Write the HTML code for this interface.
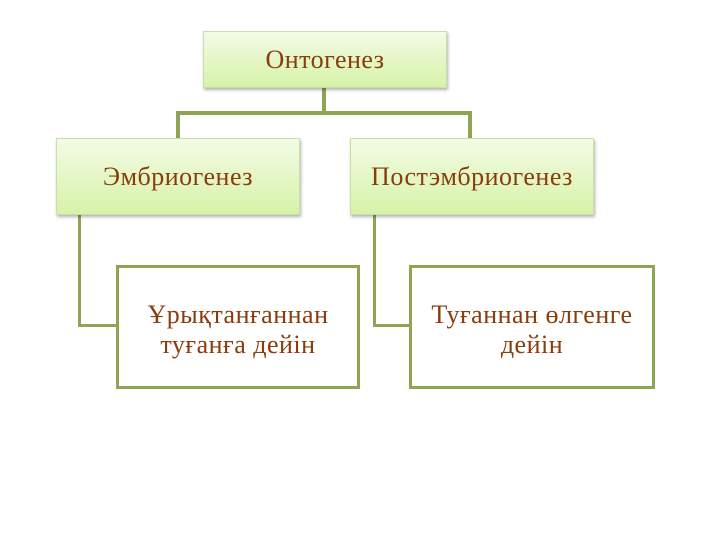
<!DOCTYPE html>
<html><head><meta charset="utf-8"><style>
body{margin:0;width:720px;height:540px;background:#fff;position:relative;overflow:hidden;font-family:"Liberation Serif",serif;color:#8a3c0c}
.g{position:absolute;box-sizing:border-box;background:linear-gradient(#f3fbe6,#d6f3a8);border:1px solid #c9dfa8;box-shadow:1px 2px 3px rgba(0,0,0,.3);display:flex;align-items:center;justify-content:center;font-size:26px;letter-spacing:0.5px}
.w{position:absolute;box-sizing:border-box;background:#fff;border:3px solid #8fa455;display:flex;align-items:center;justify-content:center;text-align:center;font-size:26px;line-height:30px;letter-spacing:0.5px;padding-top:6px}
.l{position:absolute;background:#8fa455}
</style></head><body>
<div class="l" style="left:322px;top:88px;width:4px;height:27px"></div>
<div class="l" style="left:176px;top:111px;width:296px;height:4px"></div>
<div class="l" style="left:176px;top:111px;width:4px;height:28px"></div>
<div class="l" style="left:468px;top:111px;width:4px;height:28px"></div>
<div class="l" style="left:78px;top:214px;width:3px;height:113px"></div>
<div class="l" style="left:78px;top:324px;width:42px;height:3px"></div>
<div class="l" style="left:373px;top:214px;width:3px;height:113px"></div>
<div class="l" style="left:373px;top:324px;width:38px;height:3px"></div>
<div class="g" style="left:203px;top:31px;width:244px;height:57px">Онтогенез</div>
<div class="g" style="left:56px;top:138px;width:244px;height:77px">Эмбриогенез</div>
<div class="g" style="left:350px;top:138px;width:244px;height:77px">Постэмбриогенез</div>
<div class="w" style="left:116px;top:265px;width:244px;height:124px">Ұрықтанғаннан<br>туғанға дейін</div>
<div class="w" style="left:409px;top:265px;width:246px;height:124px">Туғаннан өлгенге<br>дейін</div>
</body></html>
